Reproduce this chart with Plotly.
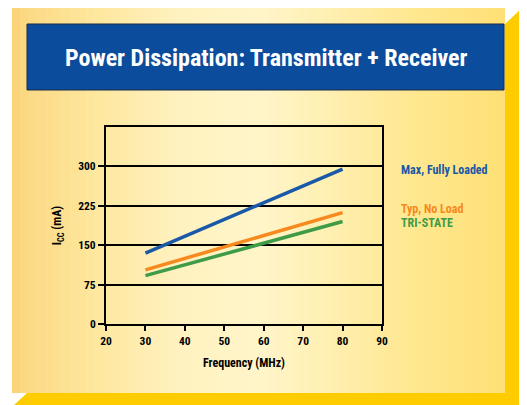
import plotly.graph_objects as go

freq = [30, 80]
max_fully_loaded = [135, 295]
typ_no_load = [103, 212]
tri_state = [92, 195]
series_names = ["Max, Fully Loaded", "Typ, No Load", "TRI-STATE"]
series_colors = ["#1A58A8", "#F7891E", "#3E9B48"]
x_ticks = [20, 30, 40, 50, 60, 70, 80, 90]
y_ticks = [0, 75, 150, 225, 300]

# page is offset by the default 8px body margin; work in page pixel coords
OFF = 8
PAGE_W, PAGE_H = 527, 405
W, H = PAGE_W - OFF, PAGE_H - OFF
PL, PR, PT, PB = 106, 382, 127, 324   # plot area in page pixels
L, T = PL - OFF, PT - OFF
R, B = PAGE_W - PR, PAGE_H - PB
PW, PH = PR - PL, PB - PT

def px(x):
    return (x - PL) / PW

def py(y):
    return (PB - y) / PH

FONT = "Liberation Sans Narrow, Roboto Condensed, Roboto, sans-serif"

fig = go.Figure()
for ys, name, col in zip([max_fully_loaded, typ_no_load, tri_state], series_names, series_colors):
    fig.add_trace(go.Scatter(x=freq, y=ys, mode="lines", name=name,
                             line=dict(color=col, width=3.5), showlegend=False))

shapes = []
# white page
shapes.append(dict(type="rect", xref="paper", yref="paper", layer="below",
                   x0=px(0), x1=px(PAGE_W), y0=py(PAGE_H), y1=py(0),
                   fillcolor="white", line=dict(width=0)))
# gradient background (front face)
stops = [(12, (251, 210, 118)), (30, (252, 218, 134)), (100, (254, 232, 160)),
         (180, (255, 242, 192)), (260, (255, 245, 202)), (340, (255, 238, 172)),
         (420, (255, 231, 142)), (505, (255, 224, 118))]
x0, x1 = 12, 505
n = 60
for i in range(n):
    a = x0 + (x1 - x0) * i / n
    b = x0 + (x1 - x0) * (i + 1) / n + 0.6
    m = (a + b) / 2
    for j in range(len(stops) - 1):
        if stops[j][0] <= m <= stops[j + 1][0]:
            t = (m - stops[j][0]) / (stops[j + 1][0] - stops[j][0])
            c = tuple(round(stops[j][1][k] + t * (stops[j + 1][1][k] - stops[j][1][k])) for k in range(3))
            break
    shapes.append(dict(type="rect", xref="paper", yref="paper", layer="below",
                       x0=px(a), x1=px(min(b, x1)), y0=py(393), y1=py(8),
                       fillcolor="rgb(%d,%d,%d)" % c, line=dict(width=0)))
# gold bevel
pts = [(522, 8), (522, 405), (14, 405), (27, 393), (505, 393), (505, 24)]
path = "M " + " L ".join("%.5f,%.5f" % (px(a), py(b)) for a, b in pts) + " Z"
shapes.append(dict(type="path", xref="paper", yref="paper", layer="below", path=path,
                   fillcolor="#FFCC00", line=dict(width=0)))
# title bar
shapes.append(dict(type="rect", xref="paper", yref="paper", layer="below",
                   x0=px(27), x1=px(504), y0=py(90), y1=py(24),
                   fillcolor="#0B4C9C", line=dict(color="#1B2B48", width=1)))

annotations = [dict(text="Power Dissipation: Transmitter + Receiver", xref="paper", yref="paper",
                    x=px(266), y=py(58), showarrow=False, xanchor="center", yanchor="middle",
                    font=dict(family=FONT, size=24, color="white", weight="bold"))]
leg_y = [170, 209, 223]
for name, col, yy in zip(series_names, series_colors, leg_y):
    annotations.append(dict(text=name, xref="paper", yref="paper", x=px(399), y=py(yy),
                            showarrow=False, xanchor="left", yanchor="middle",
                            font=dict(family=FONT, size=12, color=col, weight="bold")))

fig.update_layout(
    width=W, height=H, margin=dict(l=L, r=R, t=T, b=B, pad=0),
    paper_bgcolor="white", plot_bgcolor="rgba(0,0,0,0)",
    shapes=shapes, annotations=annotations,
    font=dict(family=FONT, size=11, color="black", weight="bold"),
    xaxis=dict(range=[20, 90], tickvals=x_ticks, showgrid=False, zeroline=False,
               showline=True, linecolor="black", linewidth=2, mirror=True,
               ticks="outside", ticklen=5, tickwidth=2, tickcolor="black",
               tickfont=dict(size=11.5),
               title=dict(text="Frequency (MHz)", standoff=12,
                          font=dict(family=FONT, size=12, weight="bold"))),
    yaxis=dict(range=[0, 375], tickvals=y_ticks, showgrid=True, gridcolor="black", gridwidth=2,
               zeroline=False, showline=True, linecolor="black", linewidth=2, mirror=True,
               ticks="outside", ticklen=6, tickwidth=2, tickcolor="black",
               tickfont=dict(size=11.5),
               title=dict(text="I<sub>CC</sub> (mA)", standoff=14,
                          font=dict(family=FONT, size=12, weight="bold"))),
)

fig.write_html("out.html")
